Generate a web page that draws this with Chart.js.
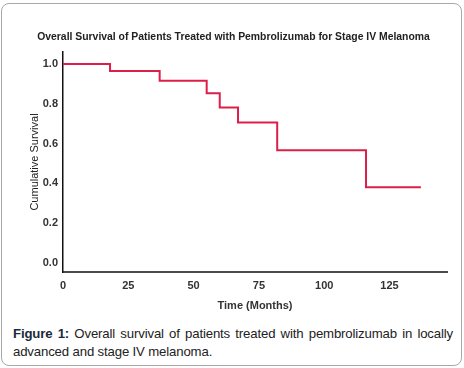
<!DOCTYPE html>
<html>
<head>
<meta charset="utf-8">
<script src="https://cdn.jsdelivr.net/npm/chart.js@4.4.0/dist/chart.umd.min.js"></script>
<style>
  body { margin: 0; background: #fff; }
  .frame {
    position: absolute; left: 1px; top: 3px; width: 459px; height: 361px;
    border: 1px solid #a8a8a8; border-radius: 8px;
  }
  #survivalChart { position: absolute; left: 0; top: 0; }
  .caption {
    position: absolute; left: 13px; width: 440px; top: 325px;
    font-family: "Liberation Sans", Arial, sans-serif; font-size: 13.2px;
    letter-spacing: -0.15px;
    line-height: 18px; color: #222;
  }
  .caption .l1 { text-align: justify; text-align-last: justify; white-space: nowrap; word-spacing: -1px; }
  .caption b { color: #1c2a3a; }
</style>
</head>
<body>
<div class="frame"></div>
<canvas id="survivalChart" width="464" height="320"></canvas>
<div class="caption">
  <div class="l1"><b>Figure 1:</b> Overall survival of patients treated with pembrolizumab in locally</div>
  <div>advanced and stage IV melanoma.</div>
</div>
<script>
// Kaplan-Meier steps
const months = [0, 18, 37, 55, 60, 67, 82, 116, 137];
const survival = [1.0, 0.964, 0.915, 0.853, 0.781, 0.706, 0.567, 0.381, 0.381];
const xTicks = [0, 25, 50, 75, 100, 125];
const yTicks = [0.0, 0.2, 0.4, 0.6, 0.8, 1.0];

document.addEventListener('DOMContentLoaded', function() {
    const canvas = document.getElementById('survivalChart');
    const ctx = canvas.getContext('2d');
    const font = 'Liberation Sans, Arial, sans-serif';

    const points = months.map((m, i) => ({ x: m, y: survival[i] }));

    new Chart(ctx, {
        type: 'line',
        data: {
            datasets: [{
                data: points,
                borderColor: '#dc1f48',
                borderWidth: 2,
                stepped: true,
                pointRadius: 0,
                fill: false
            }]
        },
        options: {
            responsive: false,
            animation: false,
            layout: { padding: { left: 20, right: 17, top: 0, bottom: 0 } },
            plugins: {
                legend: { display: false },
                tooltip: { enabled: false },
                title: {
                    display: true,
                    text: 'Overall Survival of Patients Treated with Pembrolizumab for Stage IV Melanoma',
                    color: '#222',
                    font: { family: font, size: 10.4, weight: 'bold', lineHeight: 1.2 },
                    padding: { top: 31, bottom: 8.5 }
                }
            },
            scales: {
                x: {
                    type: 'linear',
                    min: 0,
                    max: 147,
                    afterBuildTicks: s => { s.ticks = xTicks.map(v => ({ value: v })); },
                    afterFit: s => { s.height = 48; },
                    grid: { display: false, drawTicks: false },
                    border: { display: true, color: '#4a4a4a', width: 2 },
                    ticks: {
                        padding: 7,
                        color: '#333',
                        font: { family: font, size: 11, weight: 'bold' }
                    },
                    title: {
                        display: true,
                        text: 'Time (Months)',
                        color: '#333',
                        font: { family: font, size: 11, weight: 'bold', lineHeight: 1.2 },
                        padding: { top: 0, bottom: 7.5 }
                    }
                },
                y: {
                    min: -0.045,
                    max: 1.06,
                    afterBuildTicks: s => { s.ticks = yTicks.map(v => ({ value: v })); },
                    afterFit: s => { s.width = 43; },
                    grid: { display: false, drawTicks: false },
                    border: { display: true, color: '#111', width: 1.5 },
                    ticks: {
                        padding: 5,
                        color: '#333',
                        font: { family: font, size: 11, weight: 'bold' },
                        callback: v => v.toFixed(1)
                    },
                    title: {
                        display: true,
                        text: 'Cumulative Survival',
                        color: '#222',
                        font: { family: font, size: 11, lineHeight: 1.2 },
                        padding: { top: 8, bottom: 0 }
                    }
                }
            }
        }
    });
});
</script>
</body>
</html>
